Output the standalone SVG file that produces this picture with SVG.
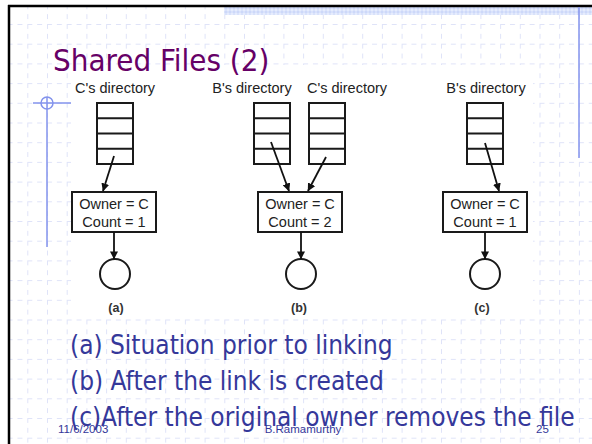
<svg xmlns="http://www.w3.org/2000/svg" width="592" height="444" viewBox="0 0 592 444">
  <defs>
    <!-- faint dashed slide grid -->
    <pattern id="grid" patternUnits="userSpaceOnUse" x="47" y="24" width="19.7" height="19.7">
      <line x1="0" y1="0.5" x2="19.7" y2="0.5" stroke="#dfe3f8" stroke-width="1" stroke-dasharray="5 4.85"/>
      <line x1="0.5" y1="0" x2="0.5" y2="19.7" stroke="#dfe3f8" stroke-width="1" stroke-dasharray="5 4.85"/>
    </pattern>
    <!-- checkered band along the top edge -->
    <pattern id="checks" patternUnits="userSpaceOnUse" width="4" height="4">
      <rect width="4" height="4" fill="#cdd8f9"/>
      <path d="M0 0 L2 2 L0 4 Z M4 0 L2 2 L4 4 Z" fill="#e6ecfd"/>
    </pattern>
    <marker id="head" viewBox="0 0 10 10" refX="9.5" refY="5" markerWidth="8" markerHeight="8" markerUnits="userSpaceOnUse" orient="auto">
      <path d="M0 0 L10 5 L0 10 Z" fill="#111"/>
    </marker>
  </defs>
  <style>
    .box { fill: #fff; stroke: #1a1a1a; stroke-width: 2; }
    .row { stroke: #1a1a1a; stroke-width: 2; }
    .file { fill: #fff; stroke: #1a1a1a; stroke-width: 2; }
    .lbl { font-family: "Liberation Sans", Arial, sans-serif; font-size: 14.5px; fill: #222; text-anchor: middle; }
    .cap { font-family: "Liberation Sans", Arial, sans-serif; font-size: 12.5px; font-weight: bold; fill: #333; text-anchor: middle; }
    .conn line { stroke: #111; stroke-width: 1.8; marker-end: url(#head); }
    .body { font-family: "DejaVu Sans Condensed", "DejaVu Sans", sans-serif; font-size: 26px; fill: #35389a; }
    .foot { font-family: "Liberation Sans", Arial, sans-serif; font-size: 11.5px; fill: #35389a; }
    .deco { stroke: #8393ec; stroke-width: 1.5; fill: none; }
  </style>

  <!-- slide background -->
  <rect x="0" y="0" width="592" height="444" fill="#fff"/>
  <rect x="10" y="7" width="582" height="437" fill="url(#grid)"/>
  <rect x="224" y="7" width="368" height="8" fill="url(#checks)"/>
  <line x1="8" y1="6" x2="592" y2="6" stroke="#000" stroke-width="2.5"/>
  <line x1="9" y1="5" x2="9" y2="444" stroke="#000" stroke-width="2.5"/>
  <line class="deco" x1="579" y1="7" x2="579" y2="158"/>
  <g class="deco">
    <circle cx="47" cy="103" r="6"/>
    <line x1="33" y1="103" x2="72" y2="103"/>
    <line x1="47" y1="97" x2="47" y2="247"/>
  </g>

  <!-- figure area -->
  <rect x="71" y="65" width="462" height="252" fill="#fff"/>

  <text x="53" y="71" font-family="'DejaVu Sans Condensed', 'DejaVu Sans', sans-serif" font-size="31" fill="#660066">Shared Files (2)</text>

  <text class="lbl" x="115" y="93">C's directory</text>
  <text class="lbl" x="252" y="93">B's directory</text>
  <text class="lbl" x="347" y="93">C's directory</text>
  <text class="lbl" x="486" y="93">B's directory</text>

  <!-- directories -->
  <g id="dirCa">
    <rect class="box" x="97" y="103" width="36" height="61"/>
    <path class="row" d="M97 118.25 H133 M97 133.5 H133 M97 148.75 H133"/>
  </g>
  <g id="dirBb">
    <rect class="box" x="254" y="103" width="36" height="61"/>
    <path class="row" d="M254 118.25 H290 M254 133.5 H290 M254 148.75 H290"/>
  </g>
  <g id="dirCb">
    <rect class="box" x="309" y="103" width="36" height="61"/>
    <path class="row" d="M309 118.25 H345 M309 133.5 H345 M309 148.75 H345"/>
  </g>
  <g id="dirBc">
    <rect class="box" x="467" y="103" width="36" height="61"/>
    <path class="row" d="M467 118.25 H503 M467 133.5 H503 M467 148.75 H503"/>
  </g>

  <!-- i-nodes -->
  <g id="inodeA">
    <rect class="box" x="72" y="192" width="84" height="40"/>
    <text class="lbl" x="114" y="209">Owner = C</text>
    <text class="lbl" x="114" y="227">Count = 1</text>
  </g>
  <g id="inodeB">
    <rect class="box" x="258" y="192" width="84" height="40"/>
    <text class="lbl" x="300" y="209">Owner = C</text>
    <text class="lbl" x="300" y="227">Count = 2</text>
  </g>
  <g id="inodeC">
    <rect class="box" x="443" y="192" width="84" height="40"/>
    <text class="lbl" x="485" y="209">Owner = C</text>
    <text class="lbl" x="485" y="227">Count = 1</text>
  </g>

  <!-- files -->
  <g id="fileA"><circle class="file" cx="115" cy="274" r="15"/></g>
  <g id="fileB"><circle class="file" cx="301" cy="274" r="15"/></g>
  <g id="fileC"><circle class="file" cx="485" cy="274" r="15"/></g>

  <g class="conn">
    <line x1="114" y1="156" x2="103" y2="191"/>
    <line x1="271" y1="142" x2="289" y2="191"/>
    <line x1="326" y1="157" x2="308" y2="191"/>
    <line x1="485" y1="143" x2="499" y2="191"/>
    <line x1="114" y1="232" x2="114" y2="259"/>
    <line x1="301" y1="232" x2="301" y2="259"/>
    <line x1="485" y1="232" x2="485" y2="259"/>
  </g>

  <text class="cap" x="116" y="312">(a)</text>
  <text class="cap" x="299" y="312">(b)</text>
  <text class="cap" x="482" y="312">(c)</text>

  <text class="body" x="70" y="354">(a) Situation prior to linking</text>
  <text class="body" x="70" y="390">(b) After the link is created</text>
  <text class="body" x="70" y="426">(c)After the original owner removes the file</text>

  <text class="foot" x="58" y="433">11/6/2003</text>
  <text class="foot" x="303" y="433" text-anchor="middle">B.Ramamurthy</text>
  <text class="foot" x="536" y="433">25</text>
</svg>
